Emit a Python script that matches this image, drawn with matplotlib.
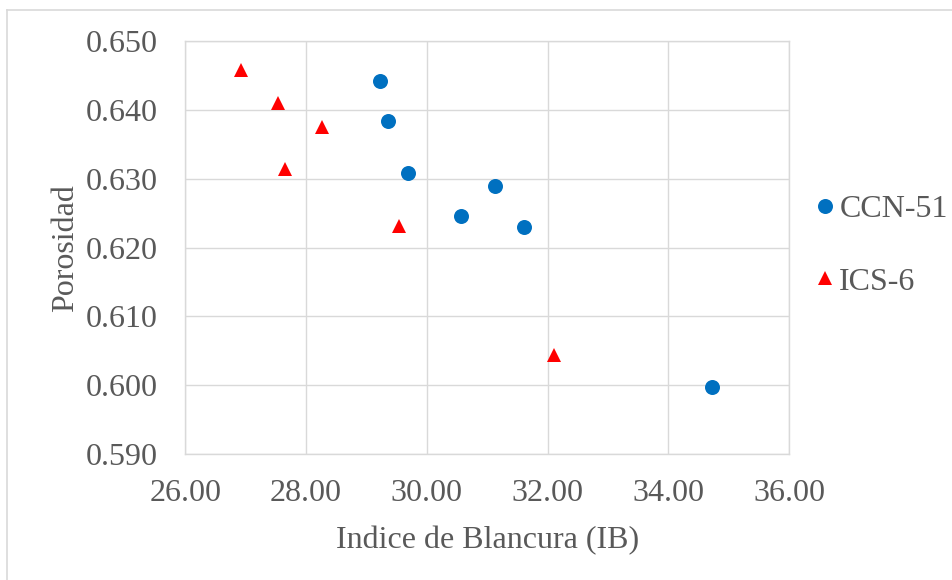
import matplotlib
matplotlib.use("Agg")
import matplotlib.pyplot as plt
from matplotlib.lines import Line2D

# data
ccn_x = [29.22, 29.35, 29.68, 30.56, 31.13, 31.60, 34.72]
ccn_y = [0.6442, 0.6384, 0.6308, 0.6246, 0.6289, 0.6230, 0.5997]
ics_x = [26.92, 27.53, 28.27, 27.65, 29.54, 32.10]
ics_y = [0.6458, 0.6410, 0.6376, 0.6314, 0.6231, 0.6044]

x_ticks = [26, 28, 30, 32, 34, 36]
y_ticks = [0.590, 0.600, 0.610, 0.620, 0.630, 0.640, 0.650]

grey_txt = "#595959"
grey_line = "#d9d9d9"

plt.rcParams['font.family'] = ['Liberation Serif', 'DejaVu Serif']

fig = plt.figure(figsize=(9.53, 5.80), dpi=100)
ax = fig.add_axes([0.1944, 0.2172, 0.6338, 0.7116])

ax.plot(ccn_x, ccn_y, linestyle='none', marker='o', ms=10.8, color='#0070C0',
        markeredgewidth=0, label='CCN-51', zorder=3)
ax.plot(ics_x, ics_y, linestyle='none', marker='^', ms=10.6, color='#FF0000',
        markeredgewidth=0, label='ICS-6', zorder=3)

ax.set_xlim(26, 36)
ax.set_ylim(0.590, 0.650)
ax.set_xticks(x_ticks)
ax.set_yticks(y_ticks)
ax.set_xticklabels(["%.2f" % v for v in x_ticks])
ax.set_yticklabels(["%.3f" % v for v in y_ticks])
ax.tick_params(axis='both', length=0, labelsize=23, colors=grey_txt)
ax.tick_params(axis='y', pad=20)
ax.tick_params(axis='x', pad=18)

ax.grid(True, color=grey_line, linewidth=1.0)
ax.set_axisbelow(True)
for s in ax.spines.values():
    s.set_color(grey_line)
    s.set_linewidth(1.0)

ax.set_xlabel('Indice de Blancura (IB)', fontsize=23, color=grey_txt, labelpad=13)
ax.set_ylabel('Porosidad', fontsize=23, color=grey_txt, labelpad=4)

leg = ax.legend(loc='center left', bbox_to_anchor=(1.022, 0.505), frameon=False,
                fontsize=23, labelcolor=grey_txt, handlelength=0.6,
                handletextpad=0.15, labelspacing=1.35, borderaxespad=0)

# outer chart border (left and top edges visible)
W, H = 953.0, 580.0
fig.add_artist(Line2D([7.5 / W, 7.5 / W], [0, 1 - 10 / H], transform=fig.transFigure,
                      color=grey_line, linewidth=1.2))
fig.add_artist(Line2D([7.5 / W, 1], [1 - 10 / H, 1 - 10 / H], transform=fig.transFigure,
                      color=grey_line, linewidth=1.2))

fig.savefig('out.png', dpi=100)
